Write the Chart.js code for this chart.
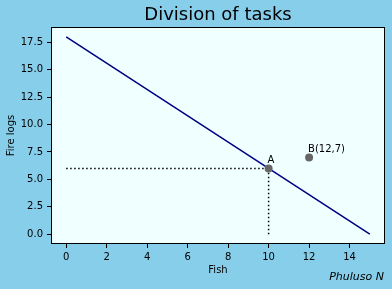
<!DOCTYPE html>
<html>
<head>
<meta charset="utf-8">
<script src="https://cdn.jsdelivr.net/npm/chart.js@4/dist/chart.umd.min.js"></script>
<style>
html,body{margin:0;padding:0;background:#87CEEB;}
#wrap{width:392px;height:289px;position:relative;}
</style>
</head>
<body>
<div id="wrap"><canvas id="c" width="392" height="289"></canvas></div>
<script>
// Data
const fishValues = [0, 15];
const fireLogValues = [18, 0];
const pointA = {x: 10, y: 6, label: 'A'};
const pointB = {x: 12, y: 7, label: 'B(12,7)'};
const hDotted = {x: [0, 10], y: [6, 6]};
const vDotted = {x: [10, 10], y: [0, 6]};
const xTicks = [0, 2, 4, 6, 8, 10, 12, 14];
const yTicks = [0, 2.5, 5, 7.5, 10, 12.5, 15, 17.5];
const titleText = 'Division of tasks';
const xLabel = 'Fish';
const yLabel = 'Fire logs';
const signature = 'Phuluso N';

const FONT = '"DejaVu Sans", sans-serif';

const toXY = (xs, ys) => xs.map((x, i) => ({x: x, y: ys[i]}));

const framePlugin = {
  id: 'frame',
  beforeDraw(chart) {
    const {ctx, chartArea: a} = chart;
    ctx.save();
    ctx.fillStyle = '#87CEEB';
    ctx.fillRect(0, 0, chart.width, chart.height);
    ctx.fillStyle = '#F0FFFF';
    ctx.fillRect(a.left, a.top, a.right - a.left, a.bottom - a.top);
    ctx.restore();
  },
  afterDraw(chart) {
    const {ctx, chartArea: a, scales} = chart;
    ctx.save();
    ctx.strokeStyle = '#000';
    ctx.lineWidth = 1;
    ctx.strokeRect(Math.round(a.left) + 0.5, Math.round(a.top) + 0.5, Math.round(a.right - a.left) - 1, Math.round(a.bottom - a.top) - 1);
    // point labels
    ctx.fillStyle = '#000';
    ctx.font = '10px ' + FONT;
    ctx.textAlign = 'left';
    ctx.textBaseline = 'alphabetic';
    [pointA, pointB].forEach(p => {
      const px = scales.x.getPixelForValue(p.x);
      const py = scales.y.getPixelForValue(p.y);
      ctx.fillText(p.label, px - 1, py - 5);
    });
    // title
    const cx = (a.left + a.right) / 2;
    ctx.textAlign = 'center';
    ctx.textBaseline = 'middle';
    ctx.font = '18px ' + FONT;
    ctx.fillText(titleText, cx, 15);
    // x label
    ctx.font = '10px ' + FONT;
    ctx.fillText(xLabel, cx, 270);
    // y label
    ctx.save();
    ctx.translate(11, (a.top + a.bottom) / 2);
    ctx.rotate(-Math.PI / 2);
    ctx.fillText(yLabel, 0, 0);
    ctx.restore();
    // signature
    ctx.font = 'italic 11px ' + FONT;
    ctx.textAlign = 'right';
    ctx.fillText(signature, 384, 277);
    ctx.restore();
  }
};

new Chart(document.getElementById('c'), {
  type: 'scatter',
  data: {
    datasets: [
      {data: toXY(fishValues, fireLogValues), showLine: true, borderColor: '#000080', borderWidth: 1.5, pointRadius: 0, order: 3},
      {data: toXY(hDotted.x, hDotted.y), showLine: true, borderColor: '#000', borderWidth: 1.5, borderDash: [1.5, 2.5], pointRadius: 0, order: 2},
      {data: toXY(vDotted.x, vDotted.y), showLine: true, borderColor: '#000', borderWidth: 1.5, borderDash: [1.5, 2.5], pointRadius: 0, order: 2},
      {data: [{x: pointA.x, y: pointA.y}, {x: pointB.x, y: pointB.y}], showLine: false, backgroundColor: '#666666', borderColor: '#666666', pointRadius: 4, borderWidth: 0, order: 1}
    ]
  },
  options: {
    responsive: false,
    animation: false,
    events: [],
    layout: {padding: {left: 0, top: 27, right: 7, bottom: 0}},
    plugins: {legend: {display: false}, tooltip: {enabled: false}, title: {display: false}},
    scales: {
      x: {
        type: 'linear', min: -0.75, max: 15.75,
        afterFit(s) { s.height = 45; },
        afterBuildTicks(s) { s.ticks = xTicks.map(v => ({value: v})); },
        grid: {drawOnChartArea: false, drawTicks: true, tickLength: 4, color: '#000'},
        border: {display: false},
        ticks: {color: '#000', font: {family: FONT, size: 10}, padding: 3, maxRotation: 0, autoSkip: false}
      },
      y: {
        type: 'linear', min: -0.9, max: 18.9,
        afterFit(s) { s.width = 51; },
        afterBuildTicks(s) { s.ticks = yTicks.map(v => ({value: v})); },
        grid: {drawOnChartArea: false, drawTicks: true, tickLength: 4, color: '#000'},
        border: {display: false},
        ticks: {color: '#000', font: {family: FONT, size: 10}, padding: 4, autoSkip: false,
          callback: v => v.toFixed(1)}
      }
    }
  },
  plugins: [framePlugin]
});
</script>
</body>
</html>
